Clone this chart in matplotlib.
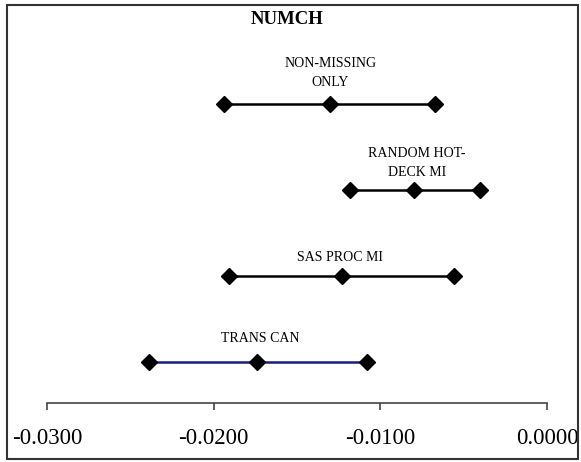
import matplotlib.pyplot as plt
from matplotlib.patches import Rectangle

# confidence intervals for NUMCH by imputation method
methods = ["NON-MISSING\nONLY", "RANDOM HOT-\nDECK MI", "SAS PROC MI", "TRANS CAN"]
lower = [-0.0194, -0.0118, -0.0191, -0.0239]
estimate = [-0.0130, -0.0080, -0.0123, -0.0174]
upper = [-0.0067, -0.0040, -0.0056, -0.0108]
ticks = [-0.03, -0.02, -0.01, 0.0]
tick_labels = ["-0.0300", "-0.0200", "-0.0100", "0.0000"]

line_colors = ["black", "black", "black", "#1a1a80"]
rows = [4, 3, 2, 1]
# where each method's label sits (x offset from the estimate, height above its row)
label_dy = [0.36, 0.31, 0.21, 0.27]
label_dx = [0.0, 0.0002, -0.0001, 0.0002]

plt.rcParams['font.family'] = ['Liberation Serif', 'DejaVu Serif']

fig = plt.figure(figsize=(5.81, 4.62), dpi=100)
ax = fig.add_axes([47 / 581, 1 - 403 / 462, 500 / 581, 342 / 462])

for i in range(len(methods)):
    xs = [lower[i], estimate[i], upper[i]]
    ys = [rows[i]] * 3
    ax.plot(xs, ys, color=line_colors[i], lw=1.8, zorder=2)
    ax.plot(xs, ys, ls='none', marker='D', color='black', markersize=8, zorder=3)
    ax.text(estimate[i] + label_dx[i], rows[i] + label_dy[i], methods[i],
            ha='center', va='center', fontsize=10, linespacing=1.6)

ax.set_xlim(-0.03, 0.0)
ax.set_ylim(0.523, 4.5)
ax.set_xticks(ticks)
ax.set_xticklabels(tick_labels, fontsize=16.5)
ax.set_yticks([])
for side in ['left', 'right', 'top']:
    ax.spines[side].set_visible(False)
ax.spines['bottom'].set_color('#444444')
ax.spines['bottom'].set_linewidth(1.2)
ax.spines['bottom'].set_bounds(-0.03, 0.0)
ax.tick_params(axis='x', direction='out', length=5, width=1.2, color='#444444', pad=13)

fig.text(287 / 581, 1 - 20 / 462, "NUMCH", ha='center', va='center',
         fontsize=13.5, fontweight='bold')

# outer frame around the whole chart
fig.patches.append(Rectangle((7 / 581, 1 - 459 / 462), 571 / 581, 454 / 462,
                             transform=fig.transFigure, fill=False,
                             edgecolor='#333333', linewidth=1.5))

fig.savefig('out.png', dpi=100)
